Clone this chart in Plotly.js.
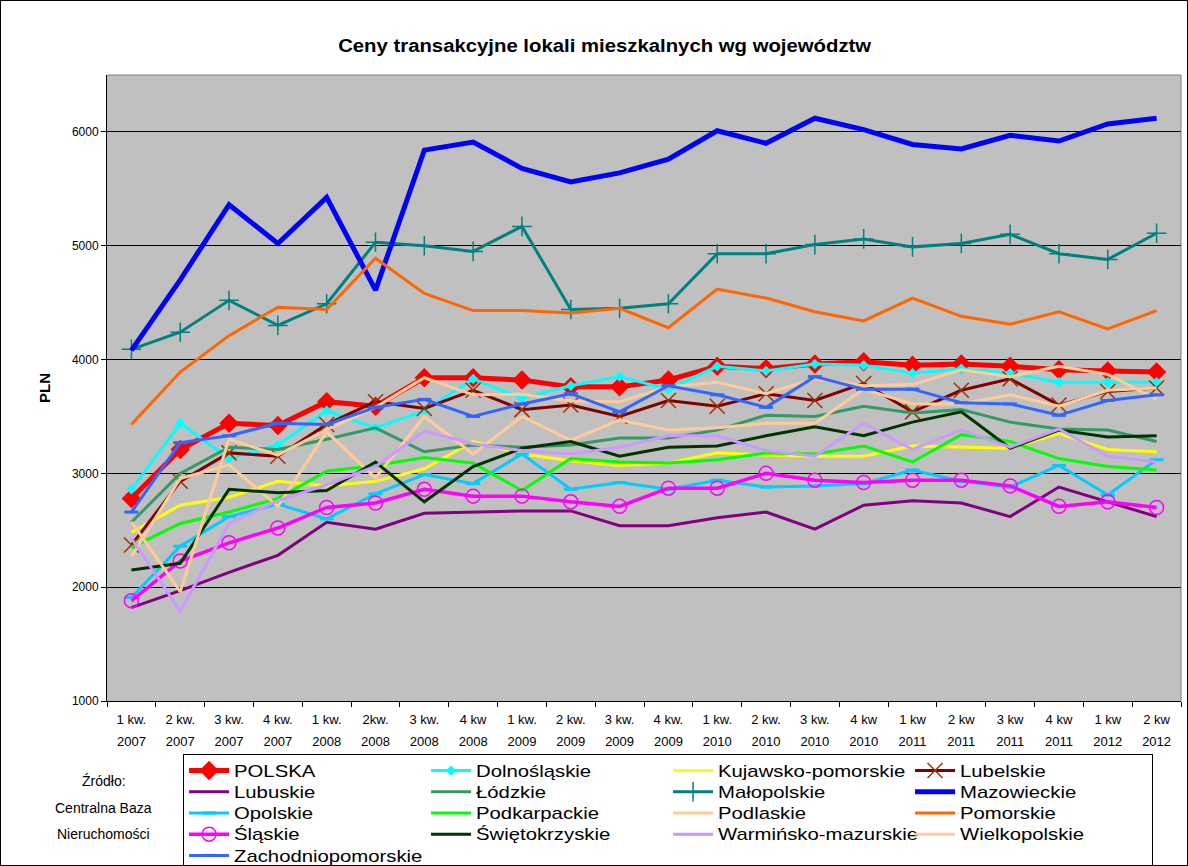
<!DOCTYPE html>
<html>
<head>
<meta charset="utf-8">
<script src="https://cdn.plot.ly/plotly-3.0.1.min.js"></script>
<style>
html,body{margin:0;padding:0;background:#fff;}
#chart{width:1186px;height:864px;border:1px solid #000;}
#chart .legendtext{transform-box:fill-box;transform-origin:0% 50%;transform:scale(1.45,1.15);}
#chart .gtitle{transform-box:fill-box;transform-origin:50% 50%;transform:scaleX(1.13);}
</style>
</head>
<body>
<div id="chart"></div>
<script>
const quarters = ["1 kw.<br>2007","2 kw.<br>2007","3 kw.<br>2007","4 kw.<br>2007","1 kw.<br>2008","2kw.<br>2008","3 kw.<br>2008","4 kw<br>2008","1 kw.<br>2009","2 kw.<br>2009","3 kw.<br>2009","4 kw.<br>2009","1 kw.<br>2010","2 kw.<br>2010","3 kw.<br>2010","4 kw<br>2010","1 kw<br>2011","2 kw<br>2011","3 kw<br>2011","4 kw<br>2011","1 kw<br>2012","2 kw<br>2012"];

const polska = [2780,3210,3440,3420,3630,3590,3840,3840,3820,3760,3760,3820,3940,3920,3960,3980,3950,3960,3940,3910,3900,3890];
const dolnoslaskie = [2860,3440,3130,3250,3550,3400,3550,3830,3660,3770,3850,3740,3940,3900,3960,3950,3880,3920,3880,3800,3800,3800];
const kujawskoPomorskie = [2480,2720,2790,2930,2890,2930,3040,3280,3170,3110,3070,3090,3180,3160,3150,3150,3240,3230,3220,3350,3210,3190];
const lubelskie = [2370,2930,3180,3150,3430,3630,3570,3730,3560,3600,3500,3640,3590,3700,3640,3790,3540,3730,3830,3600,3720,3750];
const lubuskie = [1820,1970,2130,2280,2570,2510,2650,2660,2670,2670,2540,2540,2610,2660,2510,2720,2760,2740,2620,2880,2750,2620];
const lodzkie = [2570,3000,3230,3210,3300,3400,3190,3250,3230,3250,3310,3310,3380,3510,3500,3590,3530,3560,3450,3390,3380,3280];
const malopolskie = [4090,4240,4520,4300,4490,5030,5000,4950,5170,4440,4450,4490,4930,4930,5010,5060,4990,5020,5100,4930,4880,5110];
const mazowieckie = [4080,4700,5360,5020,5425,4610,5840,5910,5680,5560,5640,5760,6010,5900,6120,6020,5890,5850,5970,5920,6070,6120];
const opolskie = [1910,2360,2620,2730,2600,2820,2990,2910,3170,2860,2920,2860,2940,2880,2890,2910,3030,2930,2880,3070,2810,3120];
const podkarpackie = [2350,2560,2660,2780,3020,3070,3140,3090,2850,3130,3100,3090,3120,3180,3170,3240,3100,3340,3280,3130,3060,3030];
const podlaskie = [2270,2955,3075,2710,3365,2960,3500,3170,3500,3290,3470,3380,3400,3440,3440,3740,3610,3610,3690,3590,3730,3750];
const pomorskie = [3430,3890,4210,4460,4440,4890,4580,4430,4430,4410,4450,4280,4620,4540,4420,4340,4540,4380,4310,4420,4270,4430];
const slaskie = [1880,2230,2390,2520,2700,2740,2860,2800,2800,2750,2710,2870,2870,3000,2940,2920,2940,2940,2890,2710,2750,2700];
const swietokrzyskie = [2150,2210,2860,2830,2850,3100,2750,3060,3220,3280,3150,3230,3240,3330,3410,3330,3450,3540,3220,3380,3320,3330];
const warminskoMazurskie = [2430,1790,2560,2760,2900,3060,3370,3260,3200,3170,3230,3330,3330,3200,3150,3440,3210,3380,3230,3390,3150,3100];
const wielkopolskie = [2575,1960,3300,3160,3385,3580,3840,3690,3695,3635,3630,3760,3800,3700,3830,3770,3780,3910,3850,3940,3870,3650];
const zachodniopomorskie = [2660,3270,3330,3440,3430,3580,3650,3500,3610,3700,3540,3770,3690,3580,3850,3740,3740,3620,3610,3510,3640,3690];

const yTicks = [1000,2000,3000,4000,5000,6000];
const sourceLines = ['Źródło:', 'Centralna Baza', 'Nieruchomości'];

function tr(name, y, color, width, marker) {
  const t = {type:'scatter', mode: marker ? 'lines+markers' : 'lines', name:name, x:quarters, y:y,
    line:{color:color, width:width}};
  if (marker) t.marker = marker;
  return t;
}

const data = [
  tr('POLSKA', polska, '#FF0000', 5, {symbol:'diamond', size:15, color:'#FF0000'}),
  tr('Dolnośląskie', dolnoslaskie, '#00FFFF', 3, {symbol:'diamond', size:8, color:'#00FFFF'}),
  tr('Kujawsko-pomorskie', kujawskoPomorskie, '#FFFF00', 3),
  tr('Lubelskie', lubelskie, '#800000', 3, {symbol:'x-thin', size:15, color:'#993300', line:{color:'#993300', width:1.5}}),
  tr('Lubuskie', lubuskie, '#800080', 3),
  tr('Łódzkie', lodzkie, '#339966', 3),
  tr('Małopolskie', malopolskie, '#008080', 3, {symbol:'cross-thin', size:14, color:'#008080', line:{color:'#008080', width:1.5}}),
  tr('Mazowieckie', mazowieckie, '#0000FF', 5),
  tr('Opolskie', opolskie, '#00CCFF', 3, {symbol:'line-ew', size:10, color:'#00CCFF', line:{color:'#00CCFF', width:3}}),
  tr('Podkarpackie', podkarpackie, '#00FF00', 3),
  tr('Podlaskie', podlaskie, '#FFCC99', 3),
  tr('Pomorskie', pomorskie, '#FF6600', 3),
  tr('Śląskie', slaskie, '#FF00FF', 3.5, {symbol:'circle-open', size:14, color:'#FF00FF', line:{color:'#FF00FF', width:1.5}}),
  tr('Świętokrzyskie', swietokrzyskie, '#003300', 3),
  tr('Warmińsko-mazurskie', warminskoMazurskie, '#CC99FF', 3),
  tr('Wielkopolskie', wielkopolskie, '#FFCC99', 3),
  tr('Zachodniopomorskie', zachodniopomorskie, '#3366FF', 3, {symbol:'line-ew', size:10, color:'#3366FF', line:{color:'#3366FF', width:3}})
];

const F = 'Arial, "Liberation Sans", sans-serif';
const layout = {
  width:1186, height:864,
  margin:{l:106, r:6, t:74, b:164},
  paper_bgcolor:'#FFFFFF',
  plot_bgcolor:'#C0C0C0',
  font:{family:F, size:11, color:'#000'},
  title:{text:'<b>Ceny transakcyjne lokali mieszkalnych wg województw</b>', font:{family:F, size:18, color:'#000'},
         xref:'container', yref:'container', x:0.509, xanchor:'center', y:0.948, yanchor:'middle'},
  showlegend:true,
  legend:{orientation:'h', xref:'container', yref:'container', x:0.1535, xanchor:'left', y:0.1285, yanchor:'top',
          bgcolor:'#FFFFFF', bordercolor:'#000', borderwidth:1,
          font:{family:F, size:14, color:'#000'}, itemwidth:40,
          entrywidth:187, entrywidthmode:'pixels', traceorder:'normal', tracegroupgap:0, itemclick:false},
  xaxis:{type:'category', range:[-0.5, 21.5], showgrid:false, zeroline:false,
         showline:true, linecolor:'#000', linewidth:1,
         ticks:'outside', tickson:'boundaries', ticklen:5, tickcolor:'#000',
         tickfont:{family:F, size:13, color:'#000'}, tickangle:0, ticklabelstandoff:6, fixedrange:true},
  yaxis:{range:[1000, 6500], tickvals:yTicks, ticktext:yTicks.map(String),
         showgrid:true, gridcolor:'#000', gridwidth:1, zeroline:false,
         showline:true, linecolor:'#000', linewidth:1,
         ticks:'outside', ticklen:5, tickcolor:'#000',
         tickfont:{family:F, size:12, color:'#000'},
         title:{text:'<b>PLN</b>', font:{family:F, size:15, color:'#000'}, standoff:17}, fixedrange:true},
  shapes:[
    {type:'line', xref:'paper', yref:'paper', x0:0, x1:1, y0:1, y1:1, line:{color:'#808080', width:1}},
    {type:'line', xref:'paper', yref:'paper', x0:1, x1:1, y0:0, y1:1, line:{color:'#808080', width:1}}
  ],
  annotations: sourceLines.map((s, i) => ({text:s, xref:'paper', yref:'paper', x:-0.003, y:-0.128 - 0.0425*i,
    xanchor:'center', yanchor:'middle', showarrow:false, font:{family:F, size:14, color:'#000'}}))
};

Plotly.newPlot('chart', data, layout, {staticPlot:true, displayModeBar:false}).then(function(gd){
  gd.querySelectorAll('.xtick text tspan.line').forEach(function(t){
    if (t.getAttribute('dy') && t.getAttribute('dy') !== '0em') t.setAttribute('dy', '1.75em');
  });
});
</script>
</body>
</html>
